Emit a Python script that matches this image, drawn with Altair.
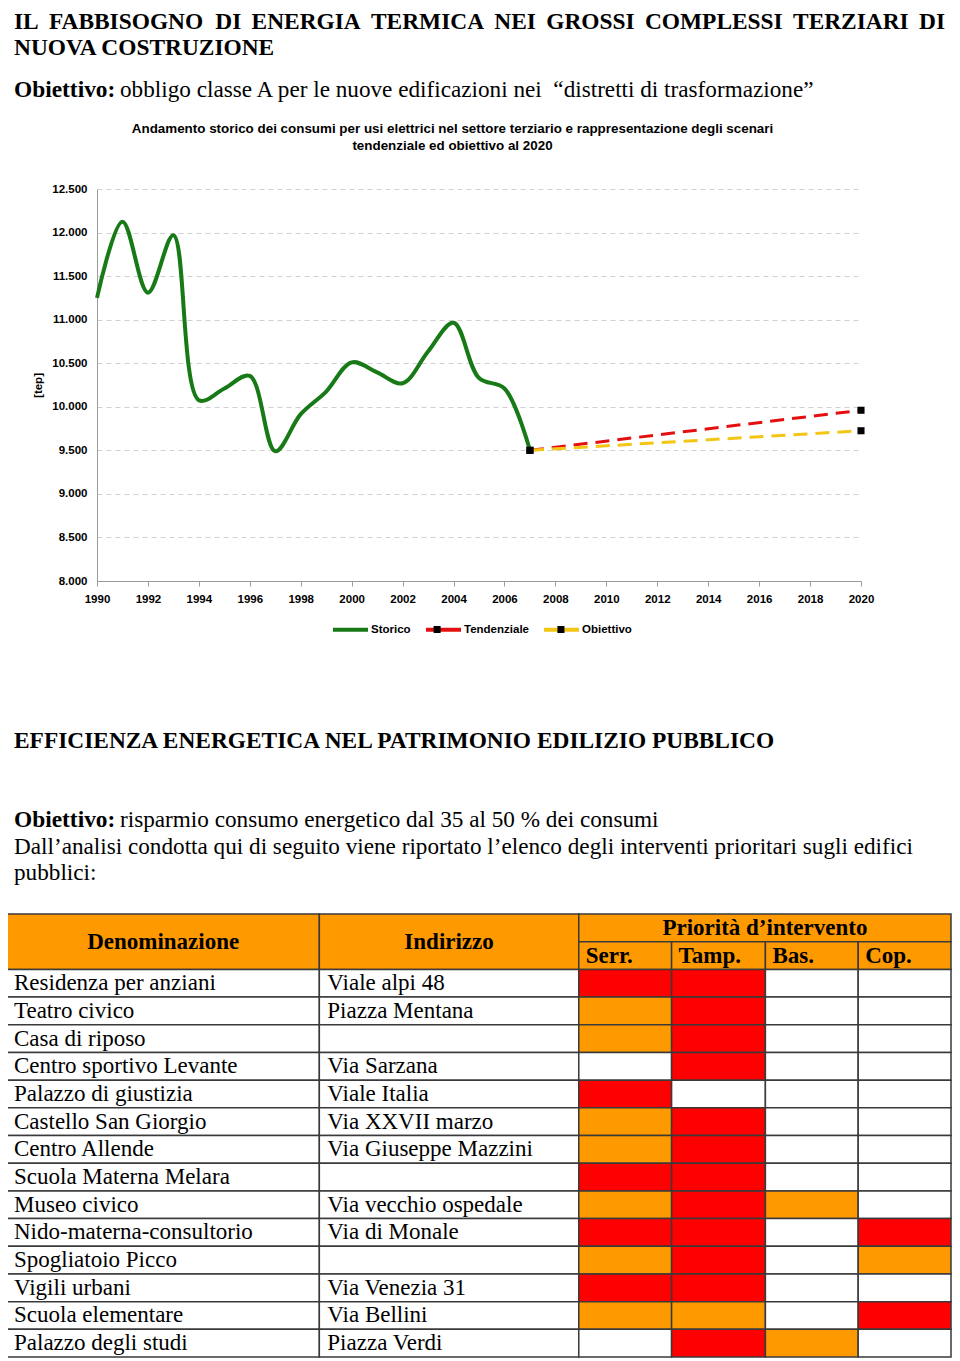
import altair as alt
import pandas as pd

# ---------------- data ----------------
anni_storico = list(range(1990, 2008))
storico = [11250, 12125, 11310, 11970, 10075, 10210, 10355, 9490, 9915, 10175,
           10510, 10395, 10270, 10635, 10965, 10330, 10210, 9500]
anni_scenari = [2007, 2020]
tendenziale = [9500, 9960]
obiettivo = [9500, 9725]
serie = ["Storico", "Tendenziale", "Obiettivo"]
serie_scenari = ["Tendenziale", "Obiettivo"]
anni_etichette = list(range(1990, 2021, 2))
valori_asse = list(range(8000, 12501, 500))

denominazione = ["Residenza per anziani", "Teatro civico", "Casa di riposo",
                 "Centro sportivo Levante", "Palazzo di giustizia", "Castello San Giorgio",
                 "Centro Allende", "Scuola Materna Melara", "Museo civico",
                 "Nido-materna-consultorio", "Spogliatoio Picco", "Vigili urbani",
                 "Scuola elementare", "Palazzo degli studi"]
indirizzo = ["Viale alpi 48", "Piazza Mentana", "", "Via Sarzana", "Viale Italia",
             "Via XXVII marzo", "Via Giuseppe Mazzini", "", "Via vecchio ospedale",
             "Via di Monale", "", "Via Venezia 31", "Via Bellini", "Piazza Verdi"]
interventi = ["Serr.", "Tamp.", "Bas.", "Cop."]
# A = priorità alta (rosso), M = media (arancio), - = nessuna
serr = ["A", "M", "M", "-", "A", "M", "M", "A", "M", "A", "M", "A", "M", "-"]
tamp = ["A", "A", "A", "A", "-", "A", "A", "A", "A", "A", "A", "A", "M", "A"]
bas = ["-", "-", "-", "-", "-", "-", "-", "-", "M", "-", "-", "-", "-", "M"]
cop = ["-", "-", "-", "-", "-", "-", "-", "-", "-", "A", "M", "-", "A", "-"]

titolo_1 = "IL FABBISOGNO DI ENERGIA TERMICA NEI GROSSI COMPLESSI TERZIARI DI"
titolo_2 = "NUOVA COSTRUZIONE"
obiettivo_1 = "obbligo classe A per le nuove edificazioni nei \u00a0“distretti di trasformazione”"
sottotitolo = ["Andamento storico dei consumi per usi elettrici nel settore terziario  e rappresentazione degli scenari",
               "tendenziale ed obiettivo al 2020"]
titolo_3 = "EFFICIENZA ENERGETICA NEL PATRIMONIO EDILIZIO PUBBLICO"
obiettivo_2 = "risparmio consumo energetico dal 35 al 50 % dei consumi"
paragrafo = ["Dall’analisi condotta qui di seguito viene riportato l’elenco degli interventi prioritari sugli edifici",
             "pubblici:"]

# ---------------- styles / layout ----------------
SERIF = "Liberation Serif"
SANS = "Liberation Sans"
VERDE, ROSSO, GIALLO = "#177a17", "#e41010", "#f3c616"
COL = [0, 313, 573, 666, 760, 853, 946]          # table column edges (table units)
TAB_X_RANGE = [-90, 854]
TAB_Y_RANGE = [725, 1168]
# Times-Bold advance widths (1/1000 em) used to justify the first heading line
W_TB = {"A": 722, "B": 667, "C": 722, "D": 722, "E": 667, "F": 611, "G": 778, "I": 389,
        "L": 667, "M": 944, "N": 722, "O": 778, "P": 611, "R": 722, "S": 556, "T": 667, "Z": 667}
# Arial-Bold advance widths for the legend labels (to line up the marker legend)
W_AB = {"S": 667, "t": 333, "o": 611, "r": 389, "i": 278, "c": 556,
        "T": 611, "e": 556, "n": 611, "d": 611, "z": 500, "a": 556, "l": 278}
H_SIZE = 23.4
X0 = -83
LARGH_GIUST = 931
LEG_X, LEG_Y = 234, 421
LEG_FS = 11.5
LEG_SYM = 1225          # 35 px stroke symbols
LEG_SW = 4
LEG_PAD = 7
LEG_OFF = 1

# ---------------- line chart ----------------
df_storico = pd.DataFrame({"serie": "Storico", "anno": anni_storico, "valore": storico})
df_scen = pd.DataFrame(
    [{"serie": "Tendenziale", "anno": a, "valore": v} for a, v in zip(anni_scenari, tendenziale)]
    + [{"serie": "Obiettivo", "anno": a, "valore": v} for a, v in zip(anni_scenari, obiettivo)])
df_marker = df_scen.assign(serie_m=df_scen["serie"])

x_enc = alt.X("anno:Q",
              scale=alt.Scale(domain=[1990, 2020], nice=False, zero=False),
              axis=alt.Axis(values=anni_etichette, format="d", title=None, grid=False,
                            domainColor="#9a9a9a", tickColor="#9a9a9a", tickSize=5,
                            labelPadding=7, labelFont=SANS, labelFontWeight="bold",
                            labelFontSize=11.5, labelColor="black", labelFlush=False))
y_enc = alt.Y("valore:Q",
              scale=alt.Scale(domain=[8000, 12500], nice=False, zero=False),
              axis=alt.Axis(values=valori_asse,
                            labelExpr="replace(format(datum.value, ','), ',', '.')",
                            title="[tep]", titleFont=SANS, titleFontWeight="bold",
                            titleFontSize=11.5, titleColor="black", titlePadding=8,
                            grid=True, gridColor="#d0d0d0", gridDash=[5, 4],
                            domainColor="#9a9a9a", ticks=False, tickSize=0,
                            labelPadding=10, labelFont=SANS, labelFontWeight="bold",
                            labelFontSize=11.5, labelColor="black"))

colore = alt.Color("serie:N",
                   scale=alt.Scale(domain=serie, range=[VERDE, ROSSO, GIALLO]),
                   legend=alt.Legend(title=None, orient="none", legendX=LEG_X, legendY=LEG_Y,
                                     direction="horizontal", symbolType="stroke",
                                     symbolSize=LEG_SYM, symbolStrokeWidth=LEG_SW,
                                     symbolDash=[1, 0],
                                     labelFont=SANS, labelFontWeight="bold",
                                     labelFontSize=LEG_FS, labelColor="black",
                                     labelOffset=LEG_OFF, columnPadding=LEG_PAD, padding=0))

# second legend (black markers) lined up on the Tendenziale / Obiettivo symbols
sym_w = -(-(LEG_SYM ** 0.5 + LEG_SW) // 1)
w_storico = sum(W_AB[c] for c in "Storico") / 1000 * LEG_FS
w_tend = sum(W_AB[c] for c in "Tendenziale") / 1000 * LEG_FS
leg2_x = LEG_X + sym_w + LEG_OFF + w_storico + LEG_PAD
leg2_pad = w_tend + LEG_PAD

linea_storico = alt.Chart(df_storico).mark_line(
    interpolate="catmull-rom", strokeWidth=4).encode(x=x_enc, y=y_enc, color=colore)
linee_scen = alt.Chart(df_scen).mark_line(strokeWidth=3, strokeDash=[14, 8]).encode(
    x="anno:Q", y="valore:Q", color=colore)
marker = alt.Chart(df_marker).mark_square(size=50, color="black", opacity=1).encode(
    x="anno:Q", y="valore:Q",
    opacity=alt.Opacity("serie_m:N",
                        scale=alt.Scale(domain=serie_scenari, range=[1, 1]),
                        legend=alt.Legend(title=None, orient="none", legendX=leg2_x, legendY=LEG_Y,
                                          direction="horizontal",
                                          symbolType="M-1,0L-1,0M1,0L1,0M-0.2,-0.2H0.2V0.2H-0.2Z",
                                          symbolSize=LEG_SYM, symbolStrokeWidth=LEG_SW,
                                          symbolFillColor="black", symbolStrokeColor="transparent",
                                          labelExpr="''", labelFontSize=LEG_FS,
                                          labelOffset=LEG_OFF, columnPadding=leg2_pad, padding=0)))
grafico = alt.layer(linea_storico, linee_scen, marker)

# ---------------- table ----------------
celle = []


def cella(c0, c1, r0, r1, tipo):
    celle.append({"x0": COL[c0], "x1": COL[c1], "y0": r0, "y1": r1, "tipo": tipo})


cella(0, 1, 0, 2, "H")
cella(1, 2, 0, 2, "H")
cella(2, 6, 0, 1, "H")
for j in range(4):
    cella(2 + j, 3 + j, 1, 2, "H")
for i in range(len(denominazione)):
    cella(0, 1, 2 + i, 3 + i, "-")
    cella(1, 2, 2 + i, 3 + i, "-")
    for j, p in enumerate([serr[i], tamp[i], bas[i], cop[i]]):
        cella(2 + j, 3 + j, 2 + i, 3 + i, p)
df_celle = pd.DataFrame(celle)

tx = alt.Scale(domain=[0, COL[-1]], range=TAB_X_RANGE, nice=False, zero=False)
ty = alt.Scale(domain=[0, 16], range=TAB_Y_RANGE, nice=False, zero=False)

rett = alt.Chart(df_celle).mark_rect(stroke="#3a3a3a", strokeWidth=1.5).encode(
    x=alt.X("x0:Q", scale=tx, axis=None),
    x2="x1:Q",
    y=alt.Y("y0:Q", scale=ty, axis=None),
    y2="y1:Q",
    fill=alt.Fill("tipo:N",
                  scale=alt.Scale(domain=["A", "M", "-", "H"],
                                  range=["#ff0000", "#ff9900", "#ffffff", "#ff9900"]),
                  legend=None),
)

testi_corpo = []
for i in range(len(denominazione)):
    testi_corpo.append({"x": COL[0] + 7, "y": 2.5 + i, "t": denominazione[i]})
    if indirizzo[i]:
        testi_corpo.append({"x": COL[1] + 8, "y": 2.5 + i, "t": indirizzo[i]})
df_corpo = pd.DataFrame(testi_corpo)
corpo = alt.Chart(df_corpo).mark_text(align="left", baseline="middle", font=SERIF,
                                      fontSize=23, color="black").encode(
    x=alt.X("x:Q", scale=tx, axis=None), y=alt.Y("y:Q", scale=ty, axis=None), text="t:N")

df_int_c = pd.DataFrame([
    {"x": (COL[0] + COL[1]) / 2, "y": 1, "t": "Denominazione"},
    {"x": (COL[1] + COL[2]) / 2, "y": 1, "t": "Indirizzo"},
    {"x": (COL[2] + COL[6]) / 2, "y": 0.5, "t": "Priorità d’intervento"},
])
int_c = alt.Chart(df_int_c).mark_text(align="center", baseline="middle", font=SERIF,
                                      fontSize=23, fontWeight="bold", color="black").encode(
    x=alt.X("x:Q", scale=tx, axis=None), y=alt.Y("y:Q", scale=ty, axis=None), text="t:N")

df_int_l = pd.DataFrame([{"x": COL[2 + j] + 7, "y": 1.5, "t": interventi[j]} for j in range(4)])
int_l = alt.Chart(df_int_l).mark_text(align="left", baseline="middle", font=SERIF,
                                      fontSize=23, fontWeight="bold", color="black").encode(
    x=alt.X("x:Q", scale=tx, axis=None), y=alt.Y("y:Q", scale=ty, axis=None), text="t:N")

tabella = alt.layer(rett, corpo, int_c, int_l)


# ---------------- free text ----------------
def testo(s, x, y, font=SERIF, size=23.2, weight="normal", align="left"):
    return alt.Chart(pd.DataFrame({"t": [s]})).mark_text(
        align=align, baseline="middle", font=font, fontSize=size, fontWeight=weight,
        color="black").encode(x=alt.value(x), y=alt.value(y), text="t:N")


# justified first heading line: one text per word
parole = titolo_1.split(" ")
larghezze = [sum(W_TB[c] for c in p) / 1000 * H_SIZE for p in parole]
spazio = (LARGH_GIUST - sum(larghezze)) / (len(parole) - 1)
testi = []
pos = X0
for p, w in zip(parole, larghezze):
    testi.append(testo(p, pos, -167, size=H_SIZE, weight="bold"))
    pos += w + spazio

testi += [
    testo(titolo_2, X0, -141, size=H_SIZE, weight="bold"),
    testo("Obiettivo:", X0, -99, size=H_SIZE, weight="bold"),
    testo(obiettivo_1, 23, -99),
    testo(sottotitolo[0], 355.5, -60, font=SANS, size=13.4, weight="bold", align="center"),
    testo(sottotitolo[1], 355.5, -43, font=SANS, size=13.4, weight="bold", align="center"),
    testo(titolo_3, X0, 552, size=H_SIZE, weight="bold"),
    testo("Obiettivo:", X0, 631, size=H_SIZE, weight="bold"),
    testo(obiettivo_2, 23, 631),
    testo(paragrafo[0], X0, 658),
    testo(paragrafo[1], X0, 684),
]

chart = alt.layer(grafico, tabella, *testi).resolve_scale(
    x="independent", y="independent"
).properties(
    width=764, height=392,
    padding={"left": -2, "top": 2, "right": 0, "bottom": 0},
).configure_view(strokeWidth=0)

chart.save("out.html", embed_options={"renderer": "svg", "actions": False})
